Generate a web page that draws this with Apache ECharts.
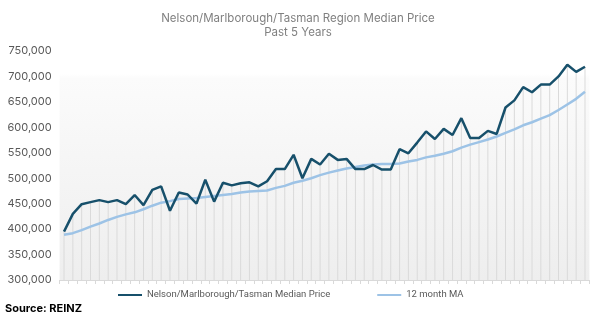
<!DOCTYPE html>
<html>
<head>
<meta charset="utf-8">
<script src="https://cdn.jsdelivr.net/npm/echarts@6/dist/echarts.min.js"></script>
<style>
html,body{margin:0;padding:0;background:#fff;}
#chart{width:602px;height:323px;}
</style>
</head>
<body>
<div id="chart"></div>
<script>
const titleLines = ['Nelson/Marlborough/Tasman Region Median Price', 'Past 5 Years'];
const seriesNames = ['Nelson/Marlborough/Tasman Median Price', '12 month MA'];
const sourceText = 'Source: REINZ';

const months = ['1','2','3','4','5','6','7','8','9','10','11','12','13','14','15','16','17','18','19','20',
  '21','22','23','24','25','26','27','28','29','30','31','32','33','34','35','36','37','38','39','40',
  '41','42','43','44','45','46','47','48','49','50','51','52','53','54','55','56','57','58','59','60'];

const medianPrice = [395000,430000,449000,453000,457000,453000,457000,449000,467000,447000,
  477000,484000,436000,472000,468000,450000,497000,454000,491000,486000,
  490000,492000,484000,494000,518000,518000,546000,500000,538000,527000,
  548000,536000,538000,518000,518000,526000,517000,517000,557000,549000,
  570000,592000,577000,597000,585000,618000,579000,579000,593000,587000,
  639000,653000,679000,669000,684000,684000,700000,723000,709000,719000];

const movingAvg = [389000,392000,398000,405000,411000,418000,424000,429000,433000,439000,
  446000,452000,455000,459000,460000,461000,463000,465000,467000,469000,
  472000,474000,475000,476000,481000,485000,491000,495000,500000,506000,
  511000,515000,519000,522000,525000,527000,528000,528000,529000,533000,
  536000,541000,544000,548000,553000,560000,566000,571000,576000,582000,
  589000,596000,604000,610000,617000,624000,634000,645000,656000,670000];

const yTicks = {min: 300000, max: 750000, step: 50000};

const FONT = 'Inter, "Noto Sans", sans-serif';
const chart = echarts.init(document.getElementById('chart'), null, {renderer: 'canvas'});
chart.setOption({
  backgroundColor: '#ffffff',
  animation: false,
  title: {
    text: titleLines.join('\n'),
    left: 293, textAlign: 'center', top: 7,
    textStyle: {fontFamily: FONT, fontSize: 11.5, fontWeight: 'normal', color: '#808080', lineHeight: 14}
  },
  legend: {
    data: seriesNames,
    left: 118, top: 290, padding: 0,
    itemWidth: 24, itemHeight: 2, itemGap: 47,
    icon: 'rect',
    textStyle: {fontFamily: 'Roboto, sans-serif', fontSize: 9.5, color: '#595959'}
  },
  grid: {
    left: 59.6, right: 12.6, top: 51, bottom: 43,
    show: true, borderWidth: 0,
    backgroundColor: {type: 'linear', x: 0, y: 0, x2: 0, y2: 1,
      colorStops: [{offset: 0, color: '#ffffff'}, {offset: 0.1, color: '#ffffff'},
                   {offset: 0.12, color: '#fbfbfb'}, {offset: 1, color: '#eeeeee'}]}
  },
  xAxis: {
    type: 'category', data: months, boundaryGap: true,
    axisLine: {lineStyle: {color: '#d9d9d9', width: 1}},
    axisTick: {show: true, interval: 0, length: 4, lineStyle: {color: '#d9d9d9'}},
    axisLabel: {show: false}
  },
  yAxis: {
    type: 'value', min: yTicks.min, max: yTicks.max, interval: yTicks.step,
    axisLine: {show: false}, axisTick: {show: false}, splitLine: {show: false},
    axisLabel: {fontFamily: FONT, fontSize: 11, color: '#595959', margin: 8,
      formatter: v => v.toLocaleString('en-US')}
  },
  graphic: [{
    type: 'text', left: 5, top: 303,
    style: {text: sourceText, fontFamily: FONT, fontSize: 11, fontWeight: 'bold', fill: '#000000'}
  }],
  series: [
    {name: 'drop', type: 'bar', data: medianPrice, barWidth: 1, silent: true,
     itemStyle: {color: '#dadada'}, z: 1, legendHoverLink: false},
    {name: seriesNames[1], type: 'line', data: movingAvg, symbol: 'none',
     lineStyle: {color: '#9dc3e6', width: 2.5}, itemStyle: {color: '#9dc3e6'}, z: 3},
    {name: seriesNames[0], type: 'line', data: medianPrice, symbol: 'none',
     lineStyle: {color: '#17506b', width: 2.5}, itemStyle: {color: '#17506b'}, z: 4}
  ]
});
</script>
</body>
</html>
